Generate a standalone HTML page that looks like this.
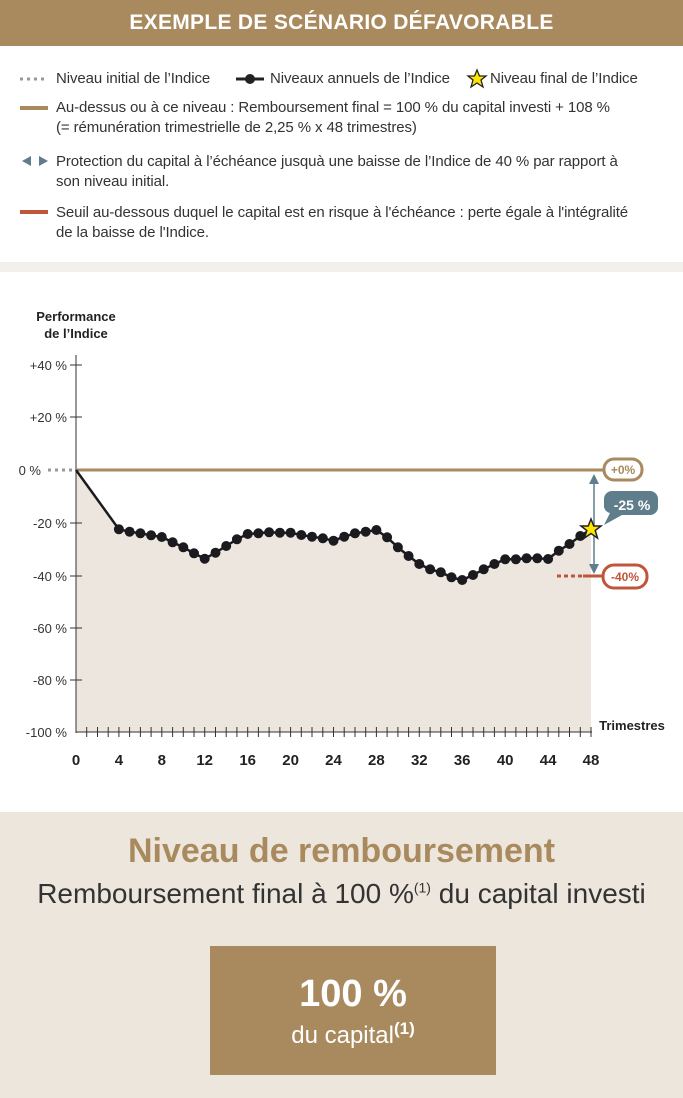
<!DOCTYPE html>
<html><head><meta charset="utf-8"><style>
body{margin:0;width:683px;height:1098px;position:relative;background:#fff;font-family:"Liberation Sans",sans-serif;overflow:hidden}
.hdr{position:absolute;left:0;top:0;width:683px;height:46px;background:#a98a5e;color:#fff;font-weight:bold;font-size:21px;text-align:center;line-height:46px;letter-spacing:0.3px}
.lg{position:absolute;font-size:15px;color:#333;line-height:20px;letter-spacing:-0.1px}
.strip{position:absolute;left:0;top:262px;width:683px;height:10px;background:#f3efea}
.bot{position:absolute;left:0;top:812px;width:683px;height:286px;background:#ede6dd;text-align:center}
</style></head><body>
<div class="hdr">EXEMPLE DE SCÉNARIO DÉFAVORABLE</div>
<svg style="position:absolute;left:0;top:0" width="683" height="262">
<line x1="20" y1="79" x2="48" y2="79" stroke="#999" stroke-width="3" stroke-dasharray="3,4"/>
<line x1="236" y1="79" x2="264" y2="79" stroke="#222" stroke-width="3"/><circle cx="250" cy="79" r="5" fill="#222"/>
<polygon points="477,70 479.5,76 486,76 481,80 483,87 477,83 471,87 473,80 468,76 474.5,76" fill="#ffe600" stroke="#222" stroke-width="1.3"/>
<line x1="20" y1="108" x2="48" y2="108" stroke="#a98a5e" stroke-width="4"/>
<polygon points="22,161 31,156 31,166" fill="#5f7d8a"/><polygon points="48,161 39,156 39,166" fill="#5f7d8a"/>
<line x1="20" y1="212" x2="48" y2="212" stroke="#c0553a" stroke-width="4"/>
</svg>
<div class="lg" style="left:56px;top:69px">Niveau initial de l’Indice</div>
<div class="lg" style="left:270px;top:69px">Niveaux annuels de l’Indice</div>
<div class="lg" style="left:490px;top:69px">Niveau final de l’Indice</div>
<div class="lg" style="left:56px;top:98px">Au-dessus ou à ce niveau : Remboursement final = 100 % du capital investi + 108 %<br>(= rémunération trimestrielle de 2,25 % x 48 trimestres)</div>
<div class="lg" style="left:56px;top:152px">Protection du capital à l’échéance jusquà une baisse de l’Indice de 40 % par rapport à<br>son niveau initial.</div>
<div class="lg" style="left:56px;top:203px">Seuil au-dessous duquel le capital est en risque à l'échéance : perte égale à l'intégralité<br>de la baisse de l'Indice.</div>
<div class="strip"></div>
<svg style="position:absolute;left:0;top:0" width="683" height="812" font-family="Liberation Sans, sans-serif">
<text x="76" y="321" font-size="13" font-weight="bold" fill="#222" text-anchor="middle">Performance</text>
<text x="76" y="338" font-size="13" font-weight="bold" fill="#222" text-anchor="middle">de l’Indice</text>
<polygon points="76,470 118.9,529.3 129.6,531.7 140.4,533.3 151.1,535.3 161.8,537 172.6,542.3 183.3,547.3 194,553.3 204.7,558.7 215.5,552.7 226.2,546 236.9,539.3 247.7,534 258.4,533.3 269.1,532.3 279.9,532.7 290.6,532.7 301.3,535 312,536.7 322.8,538.3 333.5,540.7 344.2,536.7 355,533.3 365.7,531.7 376.4,530 387.1,537.3 397.9,547.3 408.6,556 419.3,564 430.1,569.3 440.8,572.3 451.5,577.3 462.2,580 473,575 483.7,569.3 494.4,564 505.2,559.3 515.9,559.3 526.6,558.3 537.3,558.3 548.1,559 558.8,550.7 569.5,544 580.3,536 591,529.3 591,732 76,732" fill="#ece6df"/>
<line x1="76" y1="355" x2="76" y2="733" stroke="#333" stroke-width="1"/>
<line x1="76" y1="732" x2="592" y2="732" stroke="#333" stroke-width="1"/>
<g stroke="#333" stroke-width="1">
<line x1="70" y1="365" x2="82" y2="365"/><line x1="70" y1="417" x2="82" y2="417"/><line x1="70" y1="523" x2="82" y2="523"/><line x1="70" y1="576" x2="82" y2="576"/><line x1="70" y1="628" x2="82" y2="628"/><line x1="70" y1="680" x2="82" y2="680"/>
</g>
<g font-size="13" fill="#333" text-anchor="end">
<text x="67" y="370">+40 %</text><text x="67" y="422">+20 %</text><text x="41" y="475">0 %</text><text x="67" y="528">-20 %</text><text x="67" y="581">-40 %</text><text x="67" y="633">-60 %</text><text x="67" y="685">-80 %</text><text x="67" y="737">-100 %</text>
</g>
<line x1="48" y1="470" x2="72" y2="470" stroke="#999" stroke-width="3" stroke-dasharray="3,4"/>
<line x1="76" y1="470" x2="606" y2="470" stroke="#a98a5e" stroke-width="3"/>
<line x1="557" y1="576" x2="600" y2="576" stroke="#c0553a" stroke-width="3" stroke-dasharray="4,3"/>
<line x1="583" y1="576" x2="606" y2="576" stroke="#c0553a" stroke-width="3"/>
<line x1="594" y1="480" x2="594" y2="566" stroke="#5f7d8a" stroke-width="1.5"/>
<polygon points="594,474 589,484 599,484" fill="#5f7d8a"/><polygon points="594,574 589,564 599,564" fill="#5f7d8a"/>
<rect x="604" y="459" width="38" height="21" rx="10" fill="#fff" stroke="#a98a5e" stroke-width="3"/>
<text x="623" y="474" font-size="12" font-weight="bold" fill="#a98a5e" text-anchor="middle">+0%</text>
<rect x="603" y="565" width="44" height="23" rx="11" fill="#fff" stroke="#c0553a" stroke-width="3"/>
<text x="625" y="581" font-size="12" font-weight="bold" fill="#c0553a" text-anchor="middle">-40%</text>
<path d="M612,491 h38 a8,8 0 0 1 8,8 v8 a8,8 0 0 1 -8,8 h-28 l-18,10 l6,-12 a8,8 0 0 1 -6,-6 v-8 a8,8 0 0 1 8,-8z" fill="#5f7d8a"/>
<text x="632" y="510" font-size="14" font-weight="bold" fill="#fff" text-anchor="middle">-25 %</text>
<polyline fill="none" stroke="#1b1a1f" stroke-width="2.5" points="76,470 118.9,529.3 129.6,531.7 140.4,533.3 151.1,535.3 161.8,537 172.6,542.3 183.3,547.3 194,553.3 204.7,558.7 215.5,552.7 226.2,546 236.9,539.3 247.7,534 258.4,533.3 269.1,532.3 279.9,532.7 290.6,532.7 301.3,535 312,536.7 322.8,538.3 333.5,540.7 344.2,536.7 355,533.3 365.7,531.7 376.4,530 387.1,537.3 397.9,547.3 408.6,556 419.3,564 430.1,569.3 440.8,572.3 451.5,577.3 462.2,580 473,575 483.7,569.3 494.4,564 505.2,559.3 515.9,559.3 526.6,558.3 537.3,558.3 548.1,559 558.8,550.7 569.5,544 580.3,536 591,529.3"/>
<g fill="#1b1a1f">
<circle cx="118.9" cy="529.3" r="5"/><circle cx="129.6" cy="531.7" r="5"/><circle cx="140.4" cy="533.3" r="5"/><circle cx="151.1" cy="535.3" r="5"/><circle cx="161.8" cy="537" r="5"/><circle cx="172.6" cy="542.3" r="5"/><circle cx="183.3" cy="547.3" r="5"/><circle cx="194" cy="553.3" r="5"/><circle cx="204.7" cy="558.7" r="5"/><circle cx="215.5" cy="552.7" r="5"/><circle cx="226.2" cy="546" r="5"/><circle cx="236.9" cy="539.3" r="5"/><circle cx="247.7" cy="534" r="5"/><circle cx="258.4" cy="533.3" r="5"/><circle cx="269.1" cy="532.3" r="5"/><circle cx="279.9" cy="532.7" r="5"/><circle cx="290.6" cy="532.7" r="5"/><circle cx="301.3" cy="535" r="5"/><circle cx="312" cy="536.7" r="5"/><circle cx="322.8" cy="538.3" r="5"/><circle cx="333.5" cy="540.7" r="5"/><circle cx="344.2" cy="536.7" r="5"/><circle cx="355" cy="533.3" r="5"/><circle cx="365.7" cy="531.7" r="5"/><circle cx="376.4" cy="530" r="5"/><circle cx="387.1" cy="537.3" r="5"/><circle cx="397.9" cy="547.3" r="5"/><circle cx="408.6" cy="556" r="5"/><circle cx="419.3" cy="564" r="5"/><circle cx="430.1" cy="569.3" r="5"/><circle cx="440.8" cy="572.3" r="5"/><circle cx="451.5" cy="577.3" r="5"/><circle cx="462.2" cy="580" r="5"/><circle cx="473" cy="575" r="5"/><circle cx="483.7" cy="569.3" r="5"/><circle cx="494.4" cy="564" r="5"/><circle cx="505.2" cy="559.3" r="5"/><circle cx="515.9" cy="559.3" r="5"/><circle cx="526.6" cy="558.3" r="5"/><circle cx="537.3" cy="558.3" r="5"/><circle cx="548.1" cy="559" r="5"/><circle cx="558.8" cy="550.7" r="5"/><circle cx="569.5" cy="544" r="5"/><circle cx="580.3" cy="536" r="5"/>
</g>
<polygon points="591,519 593.8,526 601,526 595.2,530.5 597.5,538 591,533.5 584.5,538 586.8,530.5 581,526 588.2,526" fill="#ffe600" stroke="#222" stroke-width="1.5"/>
<path stroke="#333" stroke-width="1" d="M86.7,727v10M97.5,727v10M108.2,727v10M118.9,727v10M129.6,727v10M140.4,727v10M151.1,727v10M161.8,727v10M172.6,727v10M183.3,727v10M194,727v10M204.7,727v10M215.5,727v10M226.2,727v10M236.9,727v10M247.7,727v10M258.4,727v10M269.1,727v10M279.9,727v10M290.6,727v10M301.3,727v10M312,727v10M322.8,727v10M333.5,727v10M344.2,727v10M355,727v10M365.7,727v10M376.4,727v10M387.1,727v10M397.9,727v10M408.6,727v10M419.3,727v10M430.1,727v10M440.8,727v10M451.5,727v10M462.2,727v10M473,727v10M483.7,727v10M494.4,727v10M505.2,727v10M515.9,727v10M526.6,727v10M537.3,727v10M548.1,727v10M558.8,727v10M569.5,727v10M580.3,727v10M591,727v10"/>
<g font-size="15" font-weight="bold" fill="#222" text-anchor="middle">
<text x="76" y="765">0</text><text x="118.9" y="765">4</text><text x="161.8" y="765">8</text><text x="204.7" y="765">12</text><text x="247.7" y="765">16</text><text x="290.6" y="765">20</text><text x="333.5" y="765">24</text><text x="376.4" y="765">28</text><text x="419.3" y="765">32</text><text x="462.2" y="765">36</text><text x="505.2" y="765">40</text><text x="548.1" y="765">44</text><text x="591" y="765">48</text>
</g>
<text x="632" y="730" font-size="13" font-weight="bold" fill="#222" text-anchor="middle">Trimestres</text>
</svg>
<div class="bot">
<div style="position:absolute;left:0;width:683px;top:20px;font-size:34px;font-weight:bold;color:#a98a5e">Niveau de remboursement</div>
<div style="position:absolute;left:0;width:683px;top:66px;font-size:28px;color:#333">Remboursement final à 100 %<sup style="font-size:14px">(1)</sup> du capital investi</div>
<div style="position:absolute;left:210px;top:134px;width:286px;height:129px;background:#a98a5e;color:#fff">
<div style="font-size:38px;font-weight:bold;margin-top:28px;line-height:40px">100 %</div>
<div style="font-size:24px;line-height:30px">du capital<sup style="font-size:17px;font-weight:bold">(1)</sup></div>
</div>
</div>
</body></html>
